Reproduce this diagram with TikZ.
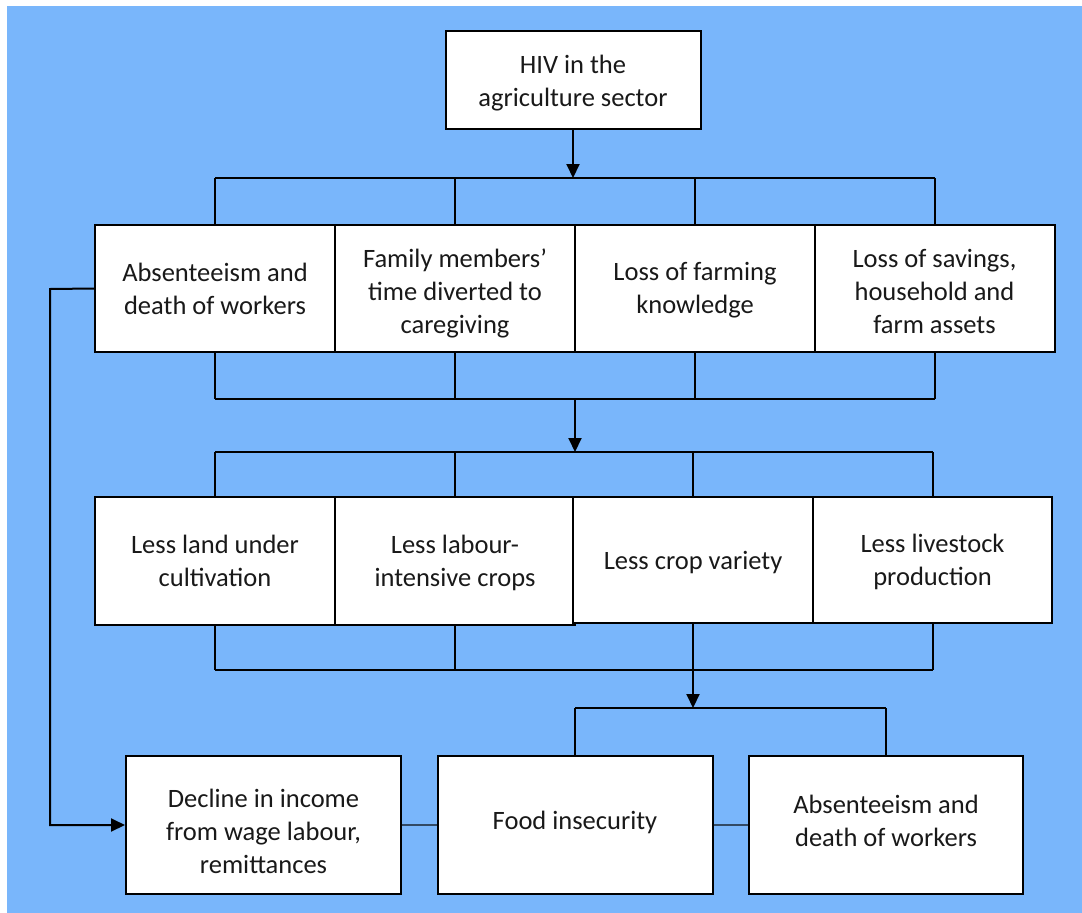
\documentclass[tikz,border=0pt]{standalone}
\usepackage{fontspec}
\setmainfont{Carlito}
\usetikzlibrary{arrows.meta}
\definecolor{panel}{RGB}{121,182,251}
\definecolor{linkline}{RGB}{50,74,100}
\tikzset{
  box/.style={draw=black, line width=2pt, fill=white, inner sep=0pt},
  boxtext/.style={inner sep=0pt, align=center, text=black!90,
                  font=\fontsize{26.5}{33}\selectfont},
  % caption of a box, nudged vertically by #1
  say/.style 2 args={label={[boxtext, yshift=#1]center:#2}},
  wire/.style={draw=black, line width=2pt},
  arr/.style={wire, -{Triangle[length=14pt,width=13pt]}},
  link/.style={draw=linkline, line width=1.6pt}
}
\begin{document}
\begin{tikzpicture}[x=1pt,y=-1pt]
  \useasboundingbox (0,0) rectangle (1082,913);
  \fill[white] (0,0) rectangle (1082,913);
  \fill[panel] (7,6) rectangle (1082,913);

  % top node
  \node[box, minimum width=255pt, minimum height=98pt,
        say={-3pt}{HIV in the\\agriculture sector}] (hiv) at (573,80) {};

  % first level: direct effects
  \begin{scope}[every node/.append style={box, minimum width=240pt, minimum height=127pt}]
    \node[say={0pt}{Absenteeism and\\death of workers}] (a1) at (215,288.5) {};
    \node[say={-5pt}{Family members’\\time diverted to\\caregiving}] (a2) at (455,288.5) {};
    \node[say={-2pt}{Loss of farming\\knowledge}] (a3) at (695,288.5) {};
    \node[say={-3pt}{Loss of savings,\\household and\\farm assets}] (a4) at (934.5,288.5) {};
  \end{scope}

  % second level: production effects
  \begin{scope}[every node/.append style={box, minimum width=240pt}]
    \node[minimum height=128pt, say={0pt}{Less land under\\cultivation}] (b1) at (215,561) {};
    \node[minimum height=128pt, say={-2pt}{Less labour-\\intensive crops}] (b2) at (455,561) {};
    \node[minimum height=126pt, say={-3pt}{Less crop variety}] (b3) at (693,560) {};
    \node[minimum height=126pt, minimum width=239pt,
          say={-2pt}{Less livestock\\production}] (b4) at (932.5,560) {};
  \end{scope}

  % third level: outcomes
  \begin{scope}[every node/.append style={box, minimum width=275pt, minimum height=138pt}]
    \node[say={-6pt}{Decline in income\\from wage labour,\\remittances}] (c1) at (263.5,825) {};
    \node[say={3pt}{Food insecurity}] (c2) at (575,825) {};
    \node[minimum width=274pt, say={4.5pt}{Absenteeism and\\death of workers}] (c3) at (886,825) {};
  \end{scope}

  % bus lines
  \coordinate (busA) at (573,178);
  \coordinate (busB) at (575,398.5);
  \coordinate (busC) at (575,452);
  \coordinate (busD) at (575,670);
  \coordinate (busE) at (693,708);

  % HIV -> first level
  \draw[arr] (hiv.south) -- (busA);
  \draw[wire] (a1.north |- busA) -- (a4.north |- busA);
  \foreach \n in {a1,a2,a3,a4} \draw[wire] (\n.north |- busA) -- (\n.north);

  % first level -> second level
  \foreach \n in {a1,a2,a3,a4} \draw[wire] (\n.south) -- (\n.south |- busB);
  \draw[wire] (a1.south |- busB) -- (a4.south |- busB);
  \draw[arr] (busB) -- (busC);
  \draw[wire] (b1.north |- busC) -- (b4.north |- busC);
  \foreach \n in {b1,b2,b3,b4} \draw[wire] (\n.north |- busC) -- (\n.north);

  % second level -> outcomes
  \foreach \n in {b1,b2,b4} \draw[wire] (\n.south) -- (\n.south |- busD);
  \draw[wire] (b1.south |- busD) -- (b4.south |- busD);
  \draw[arr] (b3.south) -- (busE);
  \draw[wire] (c2.north |- busE) -- (c3.north |- busE);
  \draw[wire] (c2.north |- busE) -- (c2.north);
  \draw[wire] (c3.north |- busE) -- (c3.north);

  % absenteeism feeds income loss
  \coordinate (side) at (50,289);
  \draw[arr] (a1.west) -- (side) -- (side |- c1.west) -- (c1.west);

  % links among outcomes
  \draw[link] (c1.east) -- (c2.west);
  \draw[link] (c2.east) -- (c3.west);
\end{tikzpicture}
\end{document}
